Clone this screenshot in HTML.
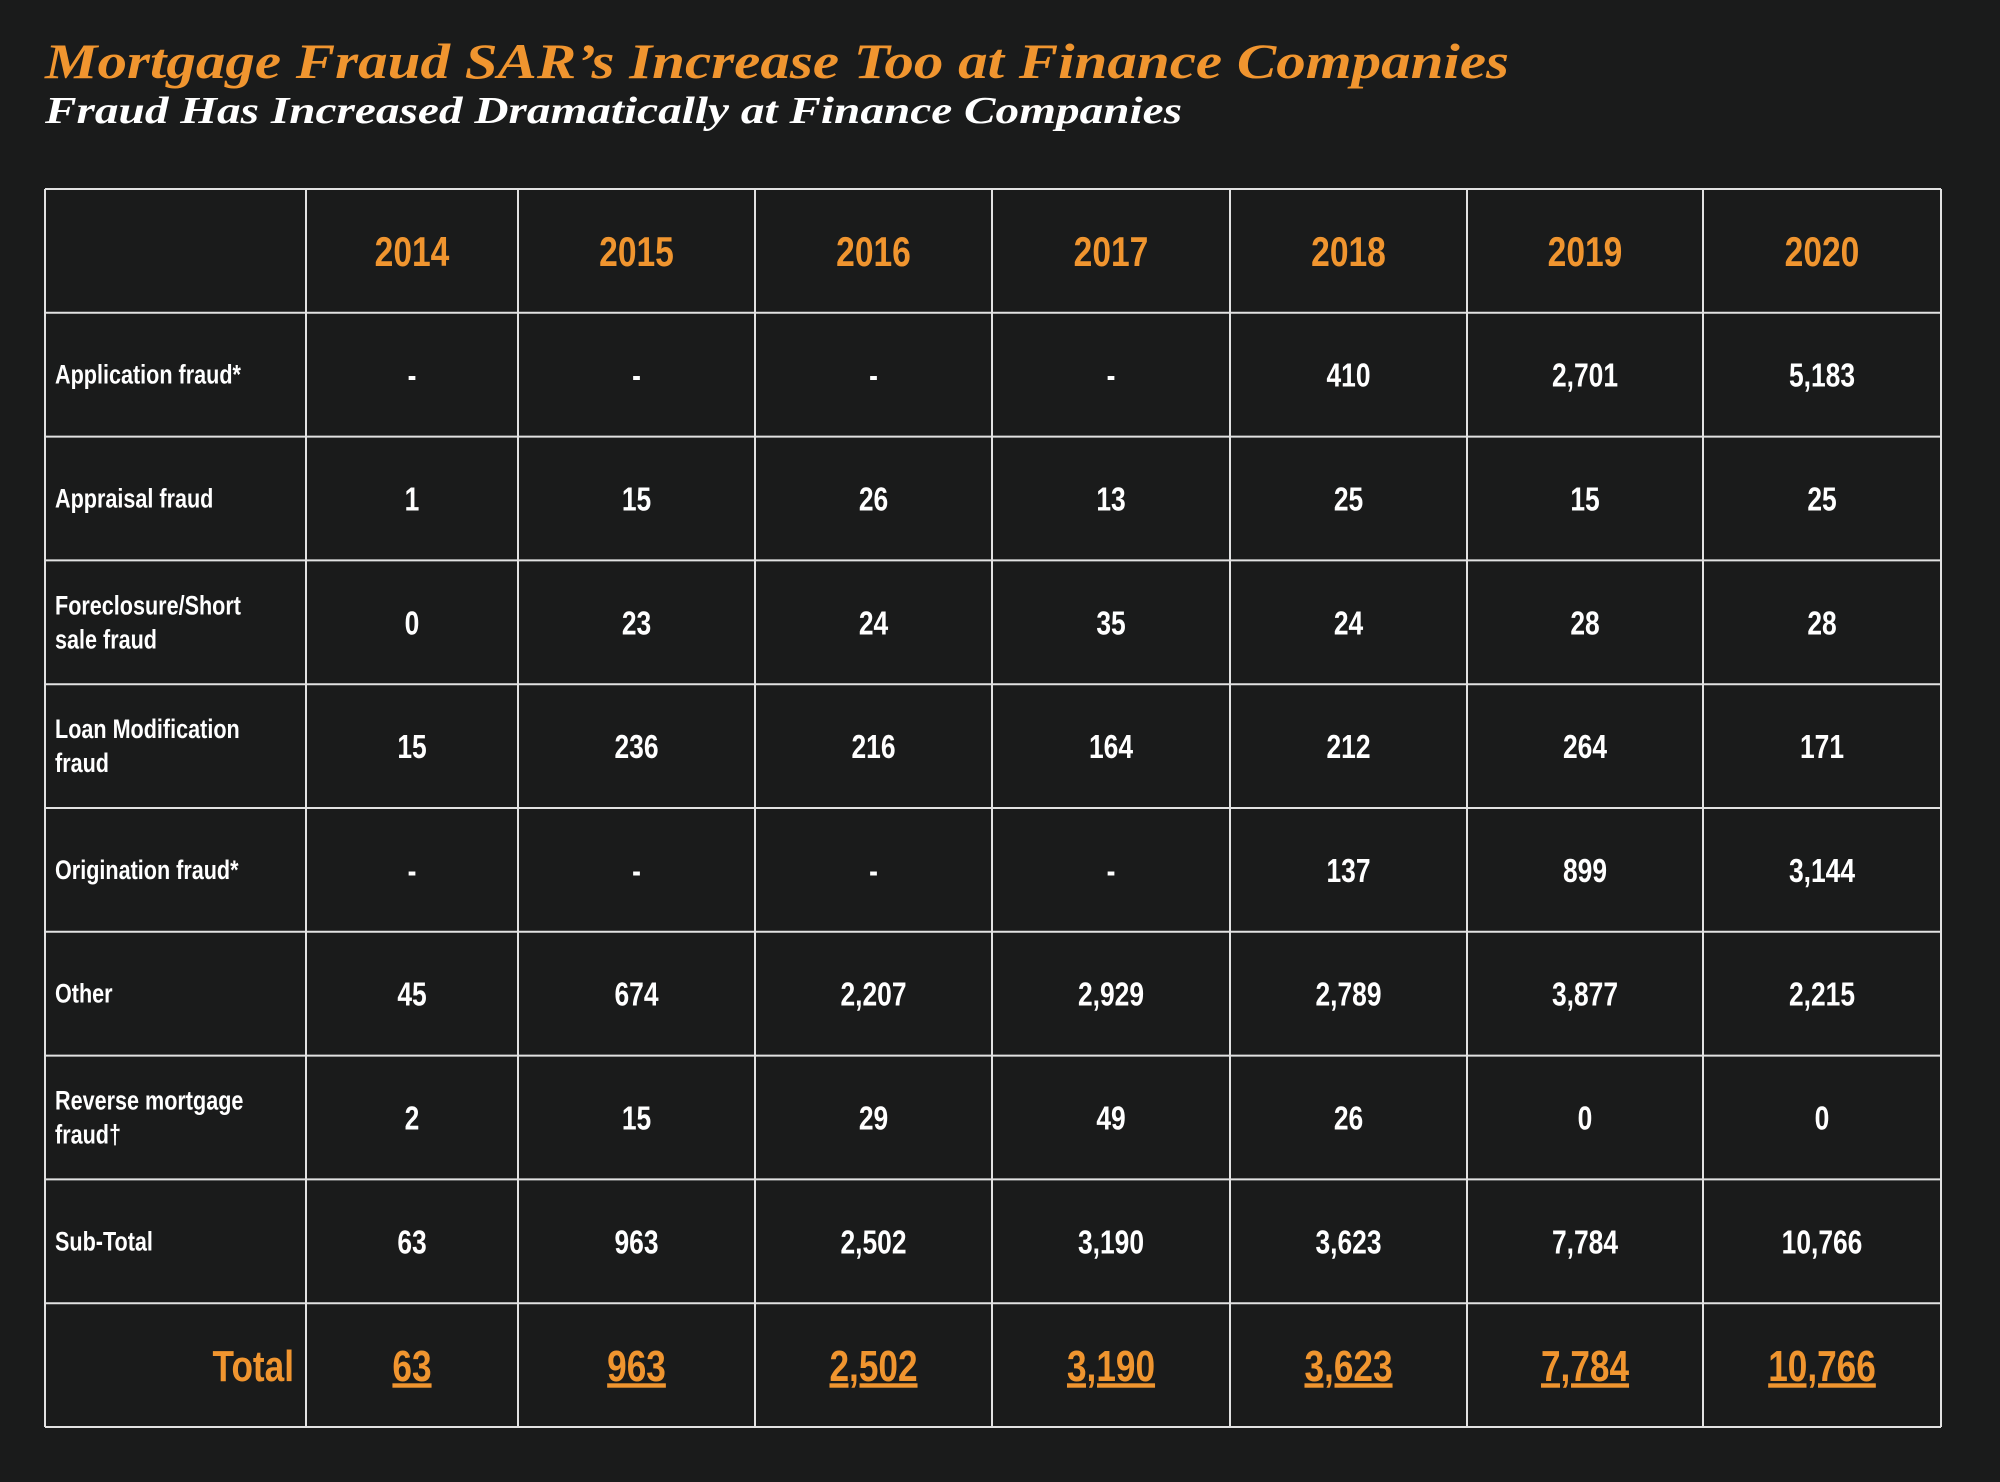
<!DOCTYPE html>
<html><head><meta charset="utf-8"><style>
html,body{margin:0;padding:0;background:#1a1b1b;}
svg{display:block}
</style></head><body>
<svg id="c" width="2000" height="1482" viewBox="0 0 2000 1482" xmlns="http://www.w3.org/2000/svg">
<rect x="0" y="0" width="2000" height="1482" fill="#1a1b1b"/>
<text x="45" y="78" font-family="Liberation Serif, serif" font-weight="bold" font-style="italic" font-size="50" fill="#f0952f" textLength="1464" lengthAdjust="spacingAndGlyphs">Mortgage Fraud SAR’s Increase Too at Finance Companies</text>
<text x="45" y="123" font-family="Liberation Serif, serif" font-weight="bold" font-style="italic" font-size="38" fill="#ffffff" textLength="1137" lengthAdjust="spacingAndGlyphs">Fraud Has Increased Dramatically at Finance Companies</text>
<g id="grid"></g>
<g id="cells"></g>
</svg>
<script>
const years = ["2014","2015","2016","2017","2018","2019","2020"];
const rowLabels = [["Application fraud*"],["Appraisal fraud"],["Foreclosure/Short","sale fraud"],["Loan Modification","fraud"],["Origination fraud*"],["Other"],["Reverse mortgage","fraud†"],["Sub-Total"]];
const applicationFraud = ["-","-","-","-","410","2,701","5,183"];
const appraisalFraud = ["1","15","26","13","25","15","25"];
const foreclosureFraud = ["0","23","24","35","24","28","28"];
const loanModFraud = ["15","236","216","164","212","264","171"];
const originationFraud = ["-","-","-","-","137","899","3,144"];
const otherFraud = ["45","674","2,207","2,929","2,789","3,877","2,215"];
const reverseFraud = ["2","15","29","49","26","0","0"];
const subTotal = ["63","963","2,502","3,190","3,623","7,784","10,766"];
const totals = ["63","963","2,502","3,190","3,623","7,784","10,766"];
const rows = [applicationFraud,appraisalFraud,foreclosureFraud,loanModFraud,originationFraud,otherFraud,reverseFraud,subTotal];

const NS="http://www.w3.org/2000/svg";
const colX=[45,306,518,755,992,1230,1467,1703,1941];
const tableTop=189,tableBottom=1427,nRows=10,rowH=(tableBottom-tableTop)/nRows;
const grid=document.getElementById('grid'), cells=document.getElementById('cells');
function ln(x1,y1,x2,y2,name){const l=document.createElementNS(NS,'line');
l.setAttribute('x1',x1);l.setAttribute('y1',y1);l.setAttribute('x2',x2);l.setAttribute('y2',y2);
l.setAttribute('stroke','#e2e2e2');l.setAttribute('stroke-width','2');


grid.appendChild(l);}
for(let i=0;i<=nRows;i++) ln(45,tableTop+i*rowH,1941,tableTop+i*rowH,'row-line');
colX.forEach(x=>ln(x,tableTop,x,tableBottom,'column-line'));
function txt(s,x,y,size,color,anchor,name,ul){const t=document.createElementNS(NS,'text');
t.setAttribute('transform',`translate(${x},${y}) scale(0.8,1)`);
t.setAttribute('font-family','Liberation Sans, Arial, sans-serif');t.setAttribute('font-weight','bold');
t.setAttribute('font-size',size);t.setAttribute('fill',color);t.setAttribute('text-anchor',anchor);
if(ul)t.setAttribute('text-decoration','underline');
t.textContent=s;


cells.appendChild(t);}
function cx(i){return (colX[i+1]+colX[i+2])/2;}
years.forEach((y,i)=>txt(y,cx(i),tableTop+rowH/2+15,42,'#f0952f','middle','year-header'));
rows.forEach((r,ri)=>{const yc=tableTop+(ri+1.5)*rowH;
 const lab=rowLabels[ri];
 if(lab.length===1) txt(lab[0],55,yc+9,27,'#ffffff','start','row-label');
 else {txt(lab[0],55,yc-8,27,'#ffffff','start','row-label');txt(lab[1],55,yc+26,27,'#ffffff','start','row-label');}
 r.forEach((v,i)=>txt(v,cx(i),yc+12,33,'#ffffff','middle','value-cell'));
});
const yt=tableTop+9.5*rowH;
txt('Total',294,yt+16,44,'#f0952f','end','total-label');
totals.forEach((v,i)=>txt(v,cx(i),yt+16,44,'#f0952f','middle','total-cell',true));
</script>
</body></html>
